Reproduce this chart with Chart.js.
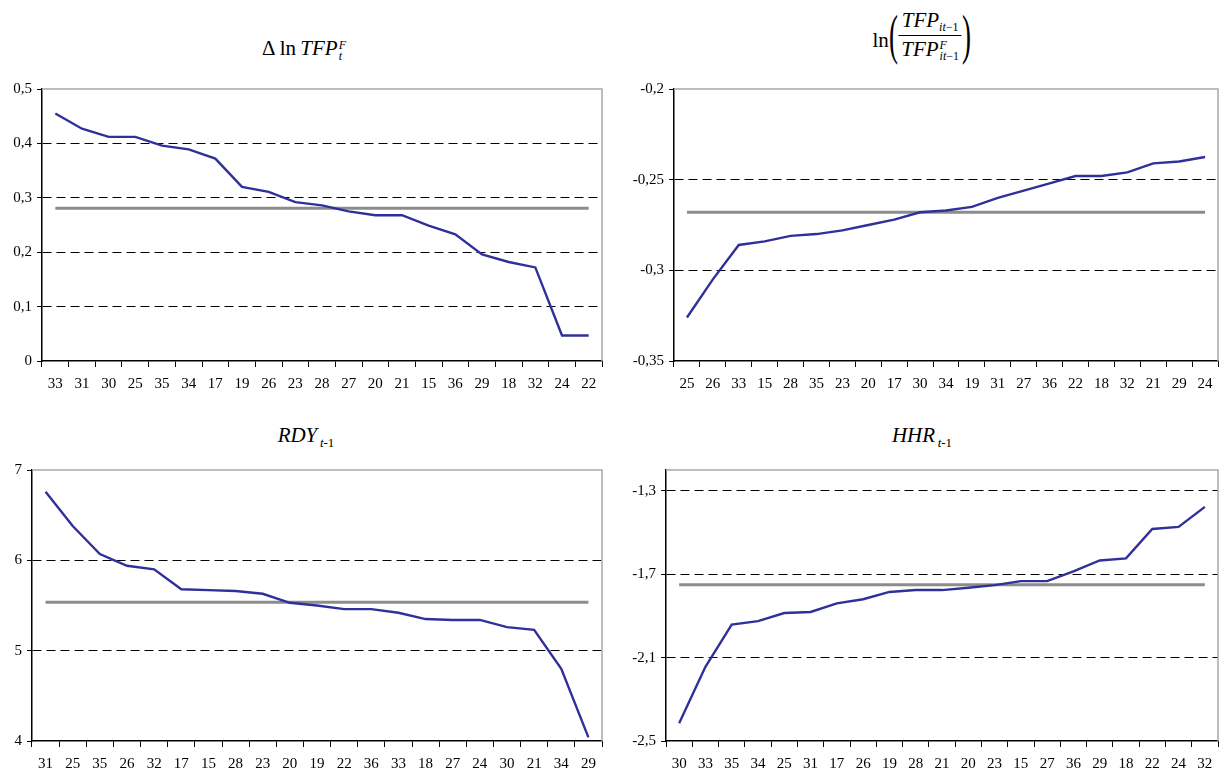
<!DOCTYPE html>
<html>
<head>
<meta charset="utf-8">
<script src="https://cdn.jsdelivr.net/npm/chart.js@4.4.1/dist/chart.umd.min.js"></script>
<style>
  body { margin:0; background:#fff; width:1227px; height:776px; position:relative; overflow:hidden; font-family:"Liberation Serif", "Times New Roman", serif; color:#000; }
  canvas { position:absolute; }
  .title { position:absolute; font-size:21px; line-height:1; white-space:nowrap; transform:translateX(-50%); }
  .ss { display:inline-block; vertical-align:-5px; font-size:12px; line-height:11px; margin-left:1px; }
  .ss > * { display:block; }
  .sb { font-size:13px; vertical-align:-5px; }
  .t2 { display:flex; align-items:center; }
  .paren { font-size:54px; line-height:54px; display:inline-block; transform:scaleX(0.5); margin:0 -4px; }
  .frac { display:inline-flex; flex-direction:column; align-items:center; }
  .frac .num { border-bottom:1px solid #000; padding:0 3px 2px 3px; line-height:22px; height:24px; }
  .frac .den { padding-top:2px; line-height:22px; height:24px; }
  .frac sub { font-size:12px; vertical-align:-4px; }
</style>
</head>
<body>

<div class="title" style="left:304px; top:38px;">&Delta;&thinsp;ln&thinsp;<i>TFP</i><span class="ss"><i>F</i><i>t</i></span></div>

<div class="title t2" style="left:922px; top:8px;">
  <span style="margin-top:10px;">ln</span><span class="paren">(</span><span class="frac"><span class="num"><i>TFP</i><sub><i>it</i>&minus;1</sub></span><span class="den"><i>TFP</i><span class="ss" style="vertical-align:-4px;"><i>F</i><span><i>it</i>&minus;1</span></span></span></span><span class="paren">)</span>
</div>

<div class="title" style="left:306px; top:425px;"><i>RDY</i><span class="sb"><i>&thinsp;t</i>-1</span></div>
<div class="title" style="left:922px; top:425px;"><i>HHR</i><span class="sb"><i>&thinsp;t</i>-1</span></div>

<canvas id="c1" width="612" height="325" style="left:0;top:75px"></canvas>
<canvas id="c2" width="615" height="325" style="left:612px;top:75px"></canvas>
<canvas id="c3" width="612" height="320" style="left:0;top:456px"></canvas>
<canvas id="c4" width="615" height="320" style="left:612px;top:456px"></canvas>

<script>
// Δ ln TFP_t^F by sector
const sectorsTFP = ["33","31","30","25","35","34","17","19","26","23","28","27","20","21","15","36","29","18","32","24","22"];
const valuesTFP = [0.455,0.427,0.412,0.412,0.396,0.389,0.372,0.320,0.311,0.292,0.286,0.275,0.268,0.268,0.249,0.233,0.196,0.182,0.172,0.047,0.047];
const meanTFP = 0.281;
const ticksTFP = [0, 0.1, 0.2, 0.3, 0.4, 0.5];

// ln(TFP_it-1 / TFP^F_it-1)
const sectorsGap = ["25","26","33","15","28","35","23","20","17","30","34","19","31","27","36","22","18","32","21","29","24"];
const valuesGap = [-0.326,-0.305,-0.286,-0.284,-0.281,-0.280,-0.278,-0.275,-0.272,-0.268,-0.267,-0.265,-0.260,-0.256,-0.252,-0.248,-0.248,-0.246,-0.241,-0.240,-0.2375];
const meanGap = -0.268;
const ticksGap = [-0.35, -0.3, -0.25, -0.2];

// RDY_t-1
const sectorsRDY = ["31","25","35","26","32","17","15","28","23","20","19","22","36","33","18","27","24","30","21","34","29"];
const valuesRDY = [6.76,6.38,6.07,5.94,5.90,5.68,5.67,5.66,5.63,5.53,5.50,5.46,5.46,5.42,5.35,5.34,5.34,5.26,5.23,4.80,4.04];
const meanRDY = 5.535;
const ticksRDY = [4, 5, 6, 7];

// HHR_t-1
const sectorsHHR = ["30","33","35","34","25","31","17","26","19","28","21","20","23","15","27","36","29","18","22","24","32"];
const valuesHHR = [-2.415,-2.144,-1.942,-1.925,-1.886,-1.881,-1.840,-1.820,-1.785,-1.776,-1.776,-1.765,-1.752,-1.733,-1.733,-1.686,-1.634,-1.624,-1.483,-1.473,-1.377];
const meanHHR = -1.75;
const ticksHHR = [-2.5, -2.1, -1.7, -1.3];
const maxHHR = -1.2;

const BLUE = "#30309a";
const GREY = "#8c8c8c";
const tickFont = { family: "'Liberation Serif', 'Times New Roman', serif", size: 15 };

// grey top/right frame of the plot area + the average line
const frameAndMean = {
  id: "frameAndMean",
  beforeDatasetsDraw(chart, args, opts) {
    const { ctx, chartArea: a, scales: { x, y } } = chart;
    ctx.save();
    ctx.strokeStyle = "#a8a8a8";
    ctx.lineWidth = 1.5;
    ctx.beginPath();
    ctx.moveTo(a.left, a.top);
    ctx.lineTo(a.right, a.top);
    ctx.lineTo(a.right, a.bottom);
    ctx.stroke();

    const py = y.getPixelForValue(opts.mean);
    ctx.strokeStyle = GREY;
    ctx.lineWidth = 3;
    ctx.beginPath();
    ctx.moveTo(x.getPixelForValue(0), py);
    ctx.lineTo(x.getPixelForValue(chart.data.labels.length - 1), py);
    ctx.stroke();
    ctx.restore();
  }
};

function fmt(v) {
  return String(Math.round(v * 1000) / 1000).replace(".", ",");
}

function makeChart(id, labels, values, mean, yTicks, yMax, yWidth, xHeight, padTop, padRight) {
  const yMin = yTicks[0];
  return new Chart(document.getElementById(id), {
    type: "line",
    data: {
      labels: labels,
      datasets: [{
        data: values,
        borderColor: BLUE,
        borderWidth: 2.4,
        pointRadius: 0,
        tension: 0,
        fill: false
      }]
    },
    options: {
      responsive: false,
      animation: false,
      layout: { padding: { top: padTop, right: padRight, left: 0, bottom: 0 } },
      plugins: {
        legend: { display: false },
        tooltip: { enabled: false },
        frameAndMean: { mean: mean }
      },
      scales: {
        x: {
          offset: true,
          grid: { offset: true, drawOnChartArea: false, drawTicks: true, tickLength: 6, color: "#000", tickColor: "#000" },
          border: { color: "#000", width: 1.5 },
          ticks: { autoSkip: false, maxRotation: 0, font: tickFont, color: "#000", padding: 8 },
          afterFit: s => { s.height = xHeight; }
        },
        y: {
          min: yMin,
          max: yMax,
          afterBuildTicks: s => { s.ticks = yTicks.map(v => ({ value: v })); },
          afterFit: s => { s.width = yWidth; },
          ticks: { font: tickFont, color: "#000", padding: 5, callback: v => fmt(v) },
          grid: {
            color: c => (c.tick && (c.tick.value === yMin || c.tick.value === yMax)) ? "rgba(0,0,0,0)" : "#000",
            tickColor: "#000",
            tickLength: 5,
            lineWidth: 1
          },
          border: { color: "#000", width: 1.5, dash: [9, 5] }
        }
      }
    },
    plugins: [frameAndMean]
  });
}

makeChart("c1", sectorsTFP, valuesTFP, meanTFP, ticksTFP, 0.5, 42, 39, 10, 10);
makeChart("c2", sectorsGap, valuesGap, meanGap, ticksGap, -0.2, 62, 39, 10, 9);
makeChart("c3", sectorsRDY, valuesRDY, meanRDY, ticksRDY, 7, 32, 35, 10, 10);
makeChart("c4", sectorsHHR, valuesHHR, meanHHR, ticksHHR, maxHHR, 54, 35, 10, 9);
</script>
</body>
</html>
